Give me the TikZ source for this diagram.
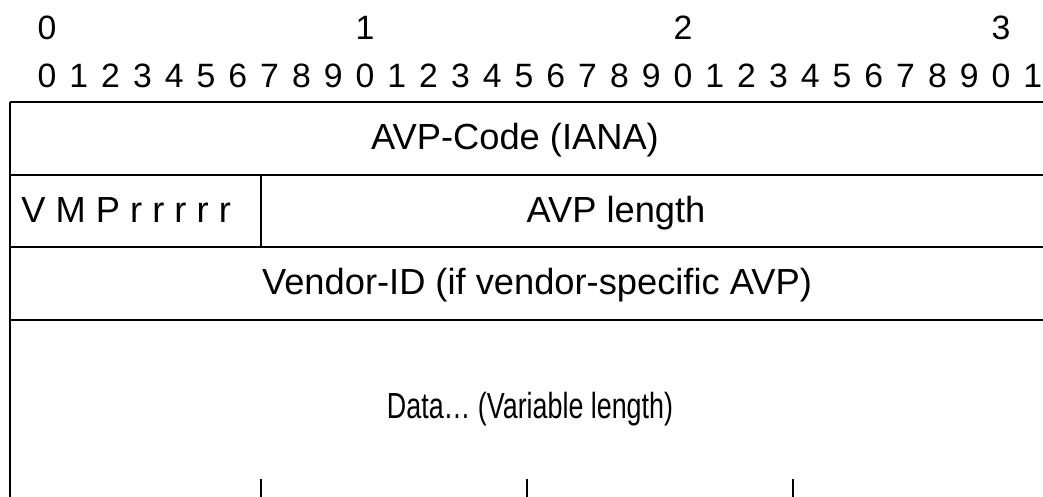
\documentclass[tikz,border=0pt]{standalone}
\usepackage{fontspec}
\setmainfont{Liberation Sans}
\usetikzlibrary{positioning}

\begin{document}
\begin{tikzpicture}[x=0.025cm, y=-0.025cm,
    bitnum/.style={font=\fontsize{24}{28}\selectfont, inner sep=0pt, anchor=base},
    field/.style={font=\fontsize{25.8}{30}\selectfont, inner sep=0pt, anchor=base},
    rowline/.style={line width=1.5pt},
    edge/.style={line width=1pt}]
    \useasboundingbox (0,0) rectangle (1043,497);

    % Bit numbers (tens and units)
    \foreach \t in {0,1,2,3} {
        \node[bitnum] (t\t) at ({47+318*\t},40) {\t};
    }
    \foreach \i in {0,...,31} {
        \pgfmathtruncatemacro{\d}{mod(\i,10)}
        \node[bitnum] (b\i) at ({47+31.8*\i},88) {\d};
    }

    % Frame (open on the right and at the bottom)
    \draw[rowline] (10,102) -- (1043,102);
    \draw[rowline] (10,175) -- (1043,175);
    \draw[rowline] (10,247) -- (1043,247);
    \draw[rowline] (10,320) -- (1043,320);
    \draw[edge] (10,102) -- (10,497);
    \draw[edge] (261,175) -- (261,247);

    % Word boundaries of the data field
    \foreach \x in {261,527,793} {
        \draw[edge] (\x,479) -- (\x,497);
    }

    % Fields
    \node[field] (code) at (515,150) {AVP-Code (IANA)};
    \node[field, anchor=base west] (flags) at (21,223) {V M P r r r r r};
    \node[field] (len) at (616,223) {AVP length};
    \node[field] (vendor) at (537,295) {Vendor-ID (if vendor-specific AVP)};
    \node[field] (data) at (530,418) {\scalebox{0.74}[1]{Data… (Variable length)}};
\end{tikzpicture}
\end{document}
